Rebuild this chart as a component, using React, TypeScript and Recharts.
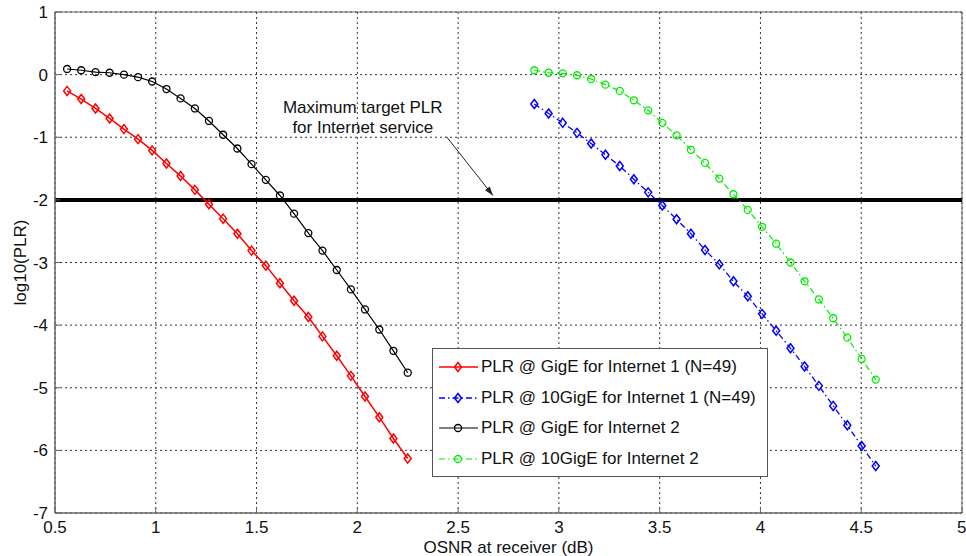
import {
  LineChart,
  Line,
  XAxis,
  YAxis,
  CartesianGrid,
  ReferenceLine,
  ReferenceDot,
  ReferenceArea,
  Legend,
} from 'recharts';

// OSNR values (dB) where each curve was sampled
const osnrGigE = [
  0.56, 0.63, 0.701, 0.771, 0.842, 0.912, 0.982, 1.053, 1.123, 1.194, 1.264, 1.334, 1.405,
  1.475, 1.546, 1.616, 1.686, 1.757, 1.827, 1.898, 1.968, 2.038, 2.109, 2.179, 2.25,
];
const osnr10GigE = [
  2.878, 2.949, 3.019, 3.09, 3.16, 3.231, 3.302, 3.372, 3.443, 3.513, 3.584, 3.655, 3.725,
  3.796, 3.866, 3.937, 4.008, 4.078, 4.149, 4.219, 4.29, 4.361, 4.431, 4.502, 4.572,
];

// log10(PLR) per series
const plrGigE1 = [
  -0.26, -0.39, -0.54, -0.7, -0.87, -1.03, -1.21, -1.42, -1.62, -1.84, -2.07, -2.3, -2.54,
  -2.81, -3.05, -3.33, -3.61, -3.87, -4.18, -4.49, -4.81, -5.14, -5.47, -5.81, -6.13,
];
const plr10GigE1 = [
  -0.47, -0.62, -0.77, -0.93, -1.1, -1.28, -1.46, -1.67, -1.88, -2.09, -2.31, -2.54, -2.8,
  -3.03, -3.3, -3.54, -3.82, -4.09, -4.37, -4.66, -4.97, -5.29, -5.6, -5.93, -6.25,
];
const plrGigE2 = [
  0.09, 0.07, 0.04, 0.03, 0.0, -0.04, -0.11, -0.23, -0.38, -0.54, -0.74, -0.96, -1.18,
  -1.43, -1.68, -1.93, -2.22, -2.53, -2.81, -3.12, -3.43, -3.75, -4.07, -4.41, -4.76,
];
const plr10GigE2 = [
  0.07, 0.03, 0.02, -0.01, -0.07, -0.16, -0.26, -0.41, -0.57, -0.77, -0.97, -1.2, -1.41,
  -1.66, -1.91, -2.16, -2.43, -2.7, -3.0, -3.3, -3.59, -3.89, -4.2, -4.54, -4.87,
];

const xTicks = [0.5, 1, 1.5, 2, 2.5, 3, 3.5, 4, 4.5, 5];
const yTicks = [1, 0, -1, -2, -3, -4, -5, -6, -7];

const targetPLR = -2;
const noteLines = ['Maximum target PLR', 'for Internet service'];

const FONT = '"Liberation Sans", Arial, sans-serif';
const FS = 17;

const toPoints = (xs: number[], ys: number[]) => xs.map((x, i) => ({ x, y: ys[i] }));

const series = [
  { name: 'PLR @ GigE for Internet 1 (N=49)', data: toPoints(osnrGigE, plrGigE1), color: '#ff0000', dash: undefined, width: 1.5, marker: 'diamond' },
  { name: 'PLR @ 10GigE for Internet 1 (N=49)', data: toPoints(osnr10GigE, plr10GigE1), color: '#0000ff', dash: '6 3 1.5 3', width: 1.3, marker: 'diamond' },
  { name: 'PLR @ GigE for Internet 2', data: toPoints(osnrGigE, plrGigE2), color: '#000000', dash: undefined, width: 1.2, marker: 'circle' },
  { name: 'PLR @ 10GigE for Internet 2', data: toPoints(osnr10GigE, plr10GigE2), color: '#00ee00', dash: '6 3 1.5 3', width: 1.2, marker: 'circle' },
];

function Marker({ cx, cy, color, kind }: { cx: number; cy: number; color: string; kind: string }) {
  if (cx == null || cy == null) return null;
  if (kind === 'diamond') {
    return (
      <polygon
        points={`${cx},${cy - 4.5} ${cx + 3.5},${cy} ${cx},${cy + 4.5} ${cx - 3.5},${cy}`}
        fill="none"
        stroke={color}
        strokeWidth={1.5}
      />
    );
  }
  return <circle cx={cx} cy={cy} r={3.5} fill="none" stroke={color} strokeWidth={1.3} />;
}

function LegendBox() {
  return (
    <div
      style={{
        width: 336,
        height: 129,
        border: '1px solid #555',
        background: '#fff',
        fontFamily: FONT,
        fontSize: FS,
        color: '#111',
        paddingTop: 3,
        boxSizing: 'border-box',
      }}
    >
      {series.map((s) => (
        <div key={s.name} style={{ display: 'flex', alignItems: 'center', height: 30.6 }}>
          <svg width={42} height={14} style={{ marginLeft: 5 }}>
            <line x1={1} y1={7} x2={40} y2={7} stroke={s.color} strokeWidth={s.width} strokeDasharray={s.dash} />
            <Marker cx={20} cy={7} color={s.color} kind={s.marker} />
          </svg>
          <span style={{ marginLeft: 1, whiteSpace: 'nowrap' }}>{s.name}</span>
        </div>
      ))}
    </div>
  );
}

const ArrowShape = (p: any) => {
  const { x1, y1, x2, y2 } = p;
  const ang = Math.atan2(y2 - y1, x2 - x1);
  const len = 9;
  const hw = 3;
  const bx = x2 - len * Math.cos(ang);
  const by = y2 - len * Math.sin(ang);
  const px = -Math.sin(ang) * hw;
  const py = Math.cos(ang) * hw;
  return (
    <g>
      <line x1={x1} y1={y1} x2={x2} y2={y2} stroke="#222" strokeWidth={1} />
      <polygon points={`${x2},${y2} ${bx + px},${by + py} ${bx - px},${by - py}`} fill="#222" />
    </g>
  );
};

const NoteShape = (p: any) => (
  <text x={p.cx} y={p.cy} textAnchor="middle" fontFamily={FONT} fontSize={FS} fill="#111">
    <tspan x={p.cx} dy={6}>{noteLines[0]}</tspan>
    <tspan x={p.cx} dy={20}>{noteLines[1]}</tspan>
  </text>
);

export default function App() {
  return (
    <div style={{ position: 'absolute', left: 0, top: 0, width: 966, height: 556, background: '#fff' }}>
      <LineChart width={966} height={556} margin={{ top: 12, right: 4, bottom: 0, left: 0 }}>
        <CartesianGrid stroke="#333" strokeDasharray="2 3" />
        <XAxis
          dataKey="x"
          type="number"
          domain={[0.5, 5]}
          ticks={xTicks}
          allowDataOverflow
          height={43}
          stroke="#666"
          tickSize={-5}
          tickMargin={13}
          tick={{ fontSize: FS, fill: '#111', fontFamily: FONT }}
          label={{ value: 'OSNR at receiver (dB)', position: 'insideBottom', offset: 3, fontSize: FS, fill: '#111', fontFamily: FONT }}
        />
        <YAxis
          type="number"
          domain={[-7, 1]}
          ticks={yTicks}
          allowDataOverflow
          width={55}
          stroke="#666"
          tickSize={-5}
          tickMargin={12}
          tick={{ fontSize: FS, fill: '#111', fontFamily: FONT }}
          label={{
            value: 'log10(PLR)',
            angle: -90,
            position: 'insideLeft',
            offset: 20,
            fontSize: FS,
            fill: '#111',
            fontFamily: FONT,
            style: { textAnchor: 'middle' },
          }}
        />
        <ReferenceArea x1={0.5} x2={5} y1={-7} y2={1} fill="none" stroke="#666" strokeWidth={1} />
        <ReferenceLine y={targetPLR} stroke="#000" strokeWidth={4} />
        <ReferenceLine
          segment={[
            { x: 2.442, y: -0.99 },
            { x: 2.673, y: -1.93 },
          ]}
          shape={ArrowShape}
        />
        <ReferenceDot x={2.027} y={-0.51} r={0} shape={NoteShape} />
        {series.map((s) => (
          <Line
            key={s.name}
            data={s.data}
            dataKey="y"
            name={s.name}
            type="linear"
            stroke={s.color}
            strokeWidth={s.width}
            strokeDasharray={s.dash}
            dot={(d: any) => <Marker key={`${s.name}-${d.index}`} cx={d.cx} cy={d.cy} color={s.color} kind={s.marker} />}
            activeDot={false}
            isAnimationActive={false}
          />
        ))}
        <Legend
          layout="horizontal"
          align="center"
          verticalAlign="middle"
          wrapperStyle={{ left: 432, top: 348, width: 336 }}
          content={() => <LegendBox />}
        />
      </LineChart>
    </div>
  );
}
